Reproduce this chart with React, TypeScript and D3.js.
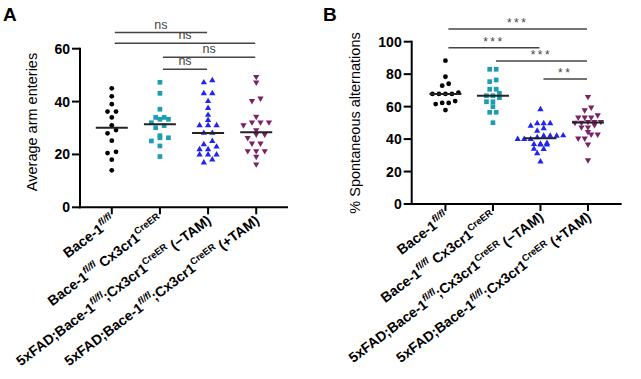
import React from 'react';
import * as d3 from 'd3';

// ---------- data ----------
const groupKeys = ['g1', 'g2', 'g3', 'g4'];
const groupColors = ['#000000', '#1c9db1', '#1f24f0', '#7b2168'];
const groupShapes = ['circle', 'square', 'triangle', 'triangleDown'];

// Panel A: Average arm enteries
const armBace = [45, 42, 39, 36.2, 36.2, 34, 31, 29.2, 28, 25.2, 21, 20.5, 18, 14];
const armBaceCx3 = [47.3, 43.1, 37.1, 34, 34, 33.3, 33.3, 32, 30.9, 30.1, 27.1, 26.3, 26.3, 25.1, 23.2, 19.2];
const armFadMinus = [48, 47.2, 43.1, 43.1, 40.1, 37.5, 34.9, 33, 31, 31, 31, 28.1, 28.1, 25, 23.8, 22.9, 21.9, 21.9, 19.9, 19.9, 19.9, 18, 16.9];
const armFadPlus = [49.4, 47.3, 41.2, 40.3, 34.3, 32.2, 32.2, 32.2, 31.1, 29.2, 27.6, 27.6, 26.3, 24.2, 24.2, 21.3, 21.3, 21.3, 19.2, 16.3];

// Panel B: % Spontaneous alternations
const altBace = [88.3, 78.4, 74.1, 72.9, 68.6, 67.8, 67.8, 67.8, 67.8, 63.4, 62.3, 62.3, 61.6, 57.9];
const altBaceCx3 = [83, 83, 76.4, 75.4, 70.7, 70.7, 68.2, 66.7, 66.7, 65.5, 63, 63, 60, 56.5, 56.5, 50.1];
const altFadMinus = [58.3, 49.7, 49.7, 49.7, 48.1, 46.6, 45, 42.2, 42, 42, 42, 41, 40, 40, 40, 37.5, 37, 36.8, 36.5, 36.5, 34, 33.8, 31.2, 26.1];
const altFadPlus = [66.1, 59.6, 57.9, 54.8, 53.4, 53.4, 53.4, 50.7, 50.7, 50.7, 50.2, 50.2, 48.7, 47.3, 47.3, 44.5, 42.9, 42.9, 40.5, 40.5, 36.8, 27.1];

const yTicksA = [0, 20, 40, 60];
const yTicksB = [0, 20, 40, 60, 80, 100];

const bracketsA = [
  { from: 0, to: 2, y: 66.1, label: 'ns' },
  { from: 0, to: 3, y: 62.1, label: 'ns' },
  { from: 1, to: 3, y: 56.8, label: 'ns' },
  { from: 1, to: 2, y: 52.2, label: 'ns' },
];
const bracketsB = [
  { from: 0, to: 3, y: 107.8, label: '***' },
  { from: 0, to: 2, y: 96.3, label: '***' },
  { from: 1, to: 3, y: 88.1, label: '***' },
  { from: 2, to: 3, y: 77.0, label: '**' },
];

// x tick labels: [main, sup, main, sup, main]
const xLabelParts = [
  ['Bace-1', 'fl/fl', '', '', ''],
  ['Bace-1', 'fl/fl', ' Cx3cr1', 'CreER', ''],
  ['5xFAD;Bace-1', 'fl/fl', ';Cx3cr1', 'CreER', ' (\u2212TAM)'],
  ['5xFAD;Bace-1', 'fl/fl', ';Cx3cr1', 'CreER', ' (+TAM)'],
];

const FONT = 'Liberation Sans, Arial, Helvetica, sans-serif';

function swarmOffsets(values: number[], y: (v: number) => number, spacing: number, binH: number) {
  const idx = values.map((_, i) => i).sort((a, b) => values[a] - values[b]);
  const offsets = new Array(values.length).fill(0);
  let row: number[] = [];
  let rowY: number | null = null;
  const flush = () => {
    row.forEach((id, k) => {
      offsets[id] = (k - (row.length - 1) / 2) * spacing;
    });
  };
  for (const id of idx) {
    const py = y(values[id]);
    if (rowY === null || Math.abs(rowY - py) < binH) {
      if (rowY === null) rowY = py;
      row.push(id);
    } else {
      flush();
      row = [id];
      rowY = py;
    }
  }
  flush();
  return offsets;
}

function symbolPath(shape: string) {
  if (shape === 'circle') return d3.symbol(d3.symbolCircle, 18)()!;
  if (shape === 'square') return d3.symbol(d3.symbolSquare, 22)()!;
  return d3.symbol(d3.symbolTriangle, 17)()!;
}

type PanelProps = {
  letter: string;
  data: number[][];
  yMax: number;
  yTicks: number[];
  yTitle: string;
  brackets: { from: number; to: number; y: number; label: string }[];
  x0: number;
  x1: number;
  yTop: number;
  yBottom: number;
  padding: number;
  titleX: number;
  titleY: number;
  letterX: number;
  spacing: number;
  stars: boolean;
};

function Panel(p: PanelProps) {
  const x = d3.scalePoint<string>().domain(groupKeys).range([p.x0, p.x1]).padding(p.padding);
  const y = d3.scaleLinear().domain([0, p.yMax]).range([p.yBottom, p.yTop]);
  return (
    <g>
      <text x={p.letterX} y={21} fontFamily={FONT} fontWeight="bold" fontSize={19} fill="#000">{p.letter}</text>
      <text
        transform={`translate(${p.titleX},${p.titleY}) rotate(-90)`}
        textAnchor="middle"
        fontFamily={FONT}
        fontSize={14.5}
        fill="#000"
      >{p.yTitle}</text>
      {/* y axis */}
      <line x1={p.x0} x2={p.x0} y1={y(p.yMax) - 1} y2={p.yBottom + 1} stroke="#000" strokeWidth={2} />
      {p.yTicks.map((t) => (
        <g key={t}>
          <line x1={p.x0 - 8} x2={p.x0} y1={y(t)} y2={y(t)} stroke="#000" strokeWidth={2} />
          <text x={p.x0 - 10} y={y(t)} dy="0.36em" textAnchor="end" fontFamily={FONT} fontWeight="bold" fontSize={14} fill="#000">{t}</text>
        </g>
      ))}
      {/* x axis */}
      <line x1={p.x0 - 1} x2={p.x1} y1={p.yBottom} y2={p.yBottom} stroke="#000" strokeWidth={2} />
      {groupKeys.map((g, i) => {
        const cx = x(g)!;
        const parts = xLabelParts[i];
        return (
          <g key={g}>
            <line x1={cx} x2={cx} y1={p.yBottom} y2={p.yBottom + 7} stroke="#000" strokeWidth={2} />
            <text
              transform={`translate(${cx + 4},${p.yBottom + 15}) rotate(-37)`}
              textAnchor="end"
              fontFamily={FONT}
              fontWeight="bold"
              fontSize={14}
              fill="#000"
            >
              <tspan>{parts[0]}</tspan>
              <tspan dy={-6} fontSize={9.5} fontStyle="italic">{parts[1]}</tspan>
              <tspan dy={6}>{parts[2]}</tspan>
              {parts[3] ? <tspan dy={-6} fontSize={9.5}>{parts[3]}</tspan> : null}
              {parts[3] ? <tspan dy={6}>{parts[4]}</tspan> : null}
            </text>
          </g>
        );
      })}
      {/* points */}
      {p.data.map((vals, gi) => {
        const cx = x(groupKeys[gi])!;
        const offs = swarmOffsets(vals, y, p.spacing, 4.5);
        const path = symbolPath(groupShapes[gi]);
        const rot = groupShapes[gi] === 'triangleDown' ? ' rotate(180)' : '';
        const med = d3.median(vals)!;
        return (
          <g key={gi}>
            {vals.map((v, k) => (
              <path
                key={k}
                d={path}
                transform={`translate(${cx + offs[k]},${y(v)})${rot}`}
                fill={groupColors[gi]}
              />
            ))}
            <line x1={cx - 16} x2={cx + 16} y1={y(med)} y2={y(med)} stroke="#222" strokeWidth={2} />
          </g>
        );
      })}
      {/* brackets */}
      {p.brackets.map((b, i) => {
        const xa = x(groupKeys[b.from])! + 3;
        const xb = x(groupKeys[b.to])! - 1;
        const yy = y(b.y);
        return (
          <g key={i}>
            <line x1={xa} x2={xb} y1={yy} y2={yy} stroke="#444" strokeWidth={1.5} />
            <text
              x={(xa + xb) / 2}
              y={p.stars ? yy - 2 : yy - 4}
              textAnchor="middle"
              fontFamily={FONT}
              fontSize={p.stars ? 12 : 12.5}
              letterSpacing={p.stars ? 2.5 : 0}
              fill="#444"
            >{b.label}</text>
          </g>
        );
      })}
    </g>
  );
}

export default function App() {
  return (
    <svg
      width={641}
      height={379}
      style={{ position: 'absolute', left: 0, top: 0, background: '#fff' }}
    >
      <rect width={641} height={379} fill="#fff" />
      <Panel
        letter="A"
        data={[armBace, armBaceCx3, armFadMinus, armFadPlus]}
        yMax={60}
        yTicks={yTicksA}
        yTitle="Average arm enteries"
        brackets={bracketsA}
        x0={80}
        x1={288}
        yTop={48.7}
        yBottom={207.3}
        padding={0.66}
        titleX={37}
        titleY={122}
        letterX={3}
        spacing={8.5}
        stars={false}
      />
      <Panel
        letter="B"
        data={[altBace, altBaceCx3, altFadMinus, altFadPlus]}
        yMax={100}
        yTicks={yTicksB}
        yTitle="% Spontaneous alternations"
        brackets={bracketsB}
        x0={411.7}
        x1={621.7}
        yTop={41.7}
        yBottom={204}
        padding={0.71}
        titleX={360}
        titleY={123}
        letterX={323}
        spacing={6.5}
        stars={true}
      />
    </svg>
  );
}
